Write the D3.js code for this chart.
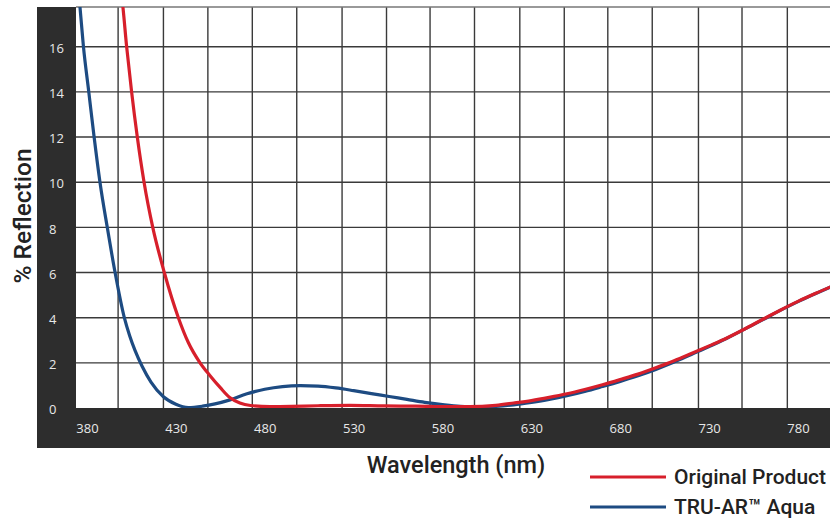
<html>
  <head>
    <script src="https://cdn.jsdelivr.net/npm/d3@7"></script>
    <style>
      body { margin: 0; background: #ffffff; }
    </style>
  </head>
  <body>
    <svg width="830" height="519" id="mainsvg"></svg>
    <script>
        // chart data
        const xTicks = [380, 430, 480, 530, 580, 630, 680, 730, 780];
        const yTicks = [0, 2, 4, 6, 8, 10, 12, 14, 16];
        const xGrid = [397.5, 423, 448, 473, 498, 523.5, 548.5, 573, 598, 623.5, 648.5, 673, 698, 724, 748.5, 774];
        const seriesNames = ['Original Product', 'TRU-AR\u2122 Aqua'];
        const seriesColors = ['#d71f2b', '#1d4b82'];

        const originalX = [399, 400, 402.3, 405.1, 408.3, 412.1, 417, 423.5, 431.4, 437, 443.6, 449, 455, 460.5, 466, 472, 483, 495, 510, 528, 547, 565, 580, 595,
                           610, 620, 630, 640, 650, 660, 670, 680, 690, 700, 710, 720, 730, 740, 750, 760, 770, 780, 790, 800];
        const originalY = [18.5, 17.9, 16, 14, 12, 10, 8, 6, 4, 2.9, 2.0, 1.45, 0.9, 0.45, 0.22, 0.11, 0.06, 0.07, 0.1, 0.12, 0.09, 0.08, 0.06, 0.06,
                           0.12, 0.22, 0.33, 0.47, 0.63, 0.82, 1.03, 1.26, 1.5, 1.78, 2.08, 2.41, 2.75, 3.1, 3.5, 3.92, 4.33, 4.72, 5.08, 5.42];

        const aquaX = [374, 376, 378, 381, 384, 387.3, 391.4, 395.8, 401, 404, 407, 411, 416, 423, 430, 437, 445, 452, 460, 470, 480, 490, 500, 510, 520, 530, 540, 550, 560, 570, 580, 590,
                       600, 610, 620, 630, 640, 650, 660, 670, 680, 690, 700, 710, 720, 730, 740, 750, 760, 770, 780, 790, 800];
        const aquaY = [19.5, 17.8, 16, 14, 12, 10, 8, 6, 4, 3.2, 2.55, 1.85, 1.15, 0.5, 0.17, 0.02, 0.08, 0.18, 0.35, 0.63, 0.83, 0.95, 0.99, 0.97, 0.89, 0.77, 0.64, 0.51, 0.38, 0.25, 0.15, 0.07,
                       0.04, 0.07, 0.14, 0.25, 0.38, 0.54, 0.73, 0.95, 1.18, 1.43, 1.71, 2.02, 2.37, 2.72, 3.09, 3.49, 3.9, 4.32, 4.71, 5.07, 5.42];

        const svg = d3.select('#mainsvg');
        const plot = {left: 76, right: 830, top: 7, bottom: 408};

        const xScale = d3.scaleLinear().domain([380, 780]).range([87, 798]);
        const yScale = d3.scaleLinear().domain([0, 16]).range([408, 46.7]);

        // dark frame on left and bottom
        svg.append('rect')
            .attr('x', 37).attr('y', plot.top)
            .attr('width', plot.left - 37).attr('height', 448 - plot.top)
            .attr('fill', '#2d2d2d');
        svg.append('rect')
            .attr('x', 37).attr('y', plot.bottom)
            .attr('width', plot.right - 37).attr('height', 448 - plot.bottom)
            .attr('fill', '#2d2d2d');

        // grid
        const grid = svg.append('g').attr('id', 'grid');
        grid.selectAll('.vgrid').data(xGrid).enter().append('line')
            .attr('class', 'vgrid')
            .attr('x1', d => xScale(d)).attr('x2', d => xScale(d))
            .attr('y1', plot.top).attr('y2', plot.bottom)
            .attr('stroke', '#3a3a3a').attr('stroke-width', 1.4);
        grid.selectAll('.hgrid').data(yTicks.filter(d => d > 0)).enter().append('line')
            .attr('class', 'hgrid')
            .attr('x1', plot.left).attr('x2', plot.right)
            .attr('y1', d => yScale(d)).attr('y2', d => yScale(d))
            .attr('stroke', '#3a3a3a').attr('stroke-width', 1.4);
        grid.append('line')
            .attr('x1', plot.left).attr('x2', plot.right)
            .attr('y1', plot.top).attr('y2', plot.top)
            .attr('stroke', '#777').attr('stroke-width', 1.4);

        // axes (labels only)
        const xAxis = d3.axisBottom(xScale).tickValues(xTicks).tickSize(0).tickPadding(0);
        const xAxisGroup = svg.append('g').attr('transform', 'translate(0, 424)').call(xAxis);
        xAxisGroup.selectAll('.domain').remove();
        xAxisGroup.attr('font-family', '"Open Sans", sans-serif').attr('font-size', 13);
        xAxisGroup.selectAll('text').attr('fill', '#e8e8e8');

        const yAxis = d3.axisRight(yScale).tickValues(yTicks).tickSize(0).tickPadding(0);
        const yAxisGroup = svg.append('g').attr('transform', 'translate(49, 1.5)').call(yAxis);
        yAxisGroup.selectAll('.domain').remove();
        yAxisGroup.attr('font-family', '"Open Sans", sans-serif').attr('font-size', 13);
        yAxisGroup.selectAll('text').attr('fill', '#e8e8e8');

        // curves
        svg.append('clipPath').attr('id', 'plotclip').append('rect')
            .attr('x', plot.left).attr('y', plot.top)
            .attr('width', plot.right - plot.left).attr('height', plot.bottom - plot.top);

        const line = d3.line()
            .x(d => xScale(d[0]))
            .y(d => yScale(d[1]))
            .curve(d3.curveMonotoneX);

        const series = [
            d3.zip(originalX, originalY),
            d3.zip(aquaX, aquaY)
        ];
        // blue drawn first, red on top
        [1, 0].forEach(i => {
            svg.append('path')
                .datum(series[i])
                .attr('clip-path', 'url(#plotclip)')
                .attr('d', line)
                .attr('fill', 'none')
                .attr('stroke', seriesColors[i])
                .attr('stroke-width', 3.2)
                .attr('stroke-linejoin', 'round');
        });

        // axis titles
        svg.append('text')
            .attr('x', 456).attr('y', 473)
            .attr('text-anchor', 'middle')
            .attr('font-family', 'Roboto, sans-serif')
            .attr('font-weight', 500)
            .attr('font-size', '23.5px')
            .attr('fill', '#222')
            .text('Wavelength (nm)');
        svg.append('text')
            .attr('transform', 'translate(31, 216) rotate(-90)')
            .attr('text-anchor', 'middle')
            .attr('font-family', 'Roboto, sans-serif')
            .attr('font-weight', 500)
            .attr('font-size', '24.5px')
            .attr('fill', '#222')
            .text('% Reflection');

        // legend
        const legend = svg.selectAll('.legend').data(seriesNames).enter().append('g')
            .attr('class', 'legend')
            .attr('transform', (d, i) => `translate(590, ${477 + i * 30})`);
        legend.append('line')
            .attr('x1', 0).attr('x2', 76).attr('y1', 0).attr('y2', 0)
            .attr('stroke', (d, i) => seriesColors[i])
            .attr('stroke-width', 3.2);
        legend.append('text')
            .attr('x', 84).attr('dy', '0.35em')
            .attr('font-family', 'Roboto, sans-serif')
            .attr('font-weight', 500)
            .attr('font-size', '21px')
            .attr('fill', '#222')
            .text(d => d);
    </script>
  </body>
</html>
